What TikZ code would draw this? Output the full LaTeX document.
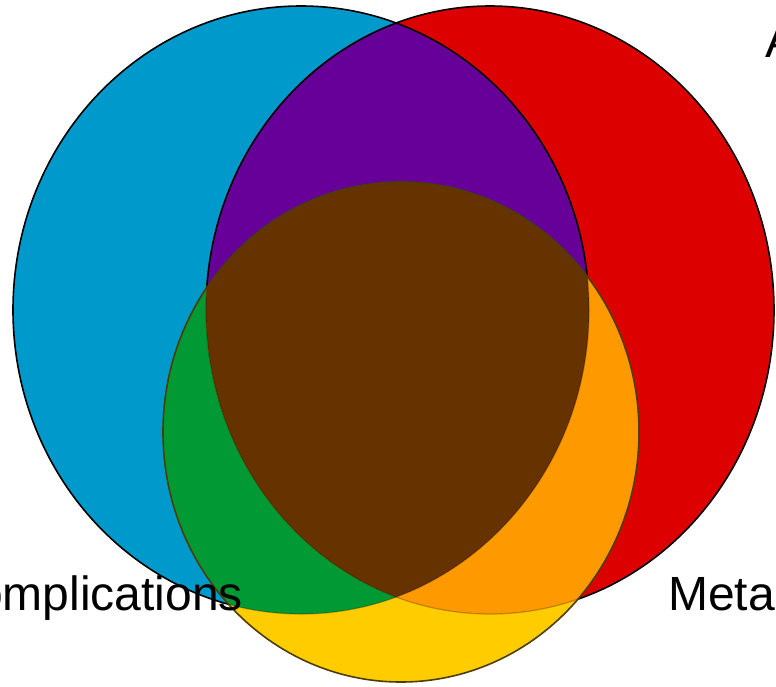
\documentclass[tikz,border=0pt]{standalone}
\usepackage{fontspec}
\setmainfont{Liberation Sans}
\definecolor{blueC}{RGB}{0,153,204}
\definecolor{redC}{RGB}{221,0,0}
\definecolor{purpleC}{RGB}{102,0,153}
\definecolor{greenC}{RGB}{0,153,51}
\definecolor{orangeC}{RGB}{255,153,0}
\definecolor{yellowC}{RGB}{255,204,0}
\definecolor{brownC}{RGB}{102,51,0}
\tikzset{
  outline/.style={draw=black, line width=1.6pt},
  faintline/.style={draw=black, line width=1.2pt, opacity=0.25},
  yellowline/.style={draw=black!70!yellowC, line width=1.6pt},
  label/.style={font=\fontsize{48}{56}\selectfont, inner sep=0pt, text=black}
}
\newcommand{\blueE}{(301,310) ellipse [x radius=288pt, y radius=304pt]}
\newcommand{\redE}{(490,310) ellipse [x radius=284pt, y radius=304pt]}
\newcommand{\yelE}{(401,432) ellipse [x radius=238pt, y radius=250pt]}
\begin{document}
\begin{tikzpicture}[x=1pt,y=-1pt]
\useasboundingbox (0,0) rectangle (776,686);
\fill[white] (0,0) rectangle (776,686);
% base fills
\fill[blueC] \blueE;
\fill[redC] \redE;
\begin{scope}\clip \blueE; \fill[purpleC] \redE; \end{scope}
% outlines of blue and red
\draw[outline] \blueE;
\draw[outline] \redE;
% yellow area regions
\fill[yellowC] \yelE;
\begin{scope}\clip \blueE; \fill[greenC] \yelE; \end{scope}
\begin{scope}\clip \redE; \fill[orangeC] \yelE; \end{scope}
\begin{scope}\clip \blueE; \clip \redE; \fill[brownC] \yelE; \end{scope}
% faint internal boundaries inside yellow
\begin{scope}\clip \yelE;
  \draw[faintline] \blueE;
  \draw[faintline] \redE;
\end{scope}
\draw[yellowline] \yelE;
% labels
\node[label, anchor=base east] (compl) at (243,610) {omplications};
\node[label, anchor=base west] (meta) at (668,610) {Meta};
\node[label, anchor=base west] (atop) at (765,57) {A};
\end{tikzpicture}
\end{document}
